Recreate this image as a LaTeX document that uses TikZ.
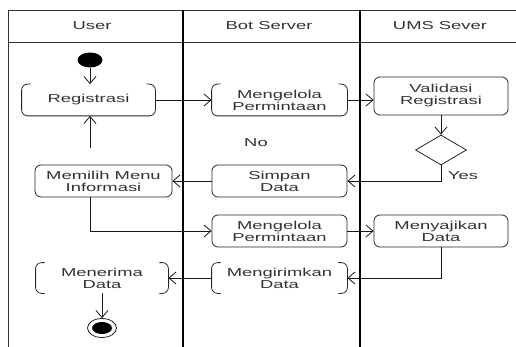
\documentclass[tikz,border=0pt]{standalone}
\usepackage{fontspec}
\setmainfont{Liberation Sans}[FakeStretch=1.6]
\usetikzlibrary{arrows.meta,calc,shapes.geometric}
\begin{document}
\begin{tikzpicture}[x=1pt,y=-1pt,
 every node/.style={font=\fontsize{11.5}{12}\selectfont, text=black!80},
 act/.style={draw=black!85, rounded corners=6pt, minimum width=135pt, minimum height=31pt, align=center, inner sep=0pt, line width=0.8pt},
 bare/.style={act, draw=none},
 edge/.style={draw=black!85, line width=0.8pt, rounded corners=6pt},
 flow/.style={draw=black!90, line width=0.8pt, -{Straight Barb[length=7pt,width=12pt]}},
 lane/.style={line width=1.8pt},
]
\useasboundingbox (0,0) rectangle (516,347);
% swimlanes
\draw[line width=0.8pt, black!80] (8,347) -- (8,10) -- (516,10);
\draw[line width=0.8pt, black!80] (8,42) -- (516,42);
\draw[lane] (183,10) -- (183,347);
\draw[lane] (360,10) -- (360,347);
\node (h1) at (92,26) {User};
\node (h2) at (269,26) {Bot Server};
\node (h3) at (440,26) {UMS Sever};
% nodes
\node[ellipse, fill=black, minimum width=25pt, minimum height=15pt, inner sep=0pt] (st) at (90,60) {};
\node[bare, minimum width=133pt] (reg) at (88.5,100) {Registrasi};
\node[bare] (mg1) at (279.5,100) {Mengelola\\Permintaan};
\node[act, minimum width=134pt, minimum height=38pt] (val) at (441,96) {Validasi\\Registrasi};
\node[diamond, draw=black!85, line width=0.8pt, aspect=1.7, minimum width=51pt, minimum height=30pt, inner sep=0pt] (dec) at (441,150) {};
\node[act, minimum width=137pt, minimum height=32pt] (mem) at (103.5,181) {Memilih Menu\\Informasi};
\node[act, minimum height=32pt] (sim) at (279.5,181) {Simpan\\Data};
\node[act, minimum height=32pt] (mg2) at (279.5,231) {Mengelola\\Permintaan};
\node[act, minimum width=134pt, minimum height=32pt] (saj) at (441,231) {Menyajikan\\Data};
\node[bare, minimum height=30pt] (kir) at (279.5,278) {Mengirimkan\\Data};
\node[bare, minimum width=132pt, minimum height=30pt] (ter) at (102,278) {Menerima\\Data};
\node[ellipse, draw=black!85, line width=0.8pt, minimum width=29pt, minimum height=19pt, inner sep=0pt] (en) at (102,328) {};
\node[ellipse, fill=black, minimum width=20pt, minimum height=12pt, inner sep=0pt] (enin) at (en) {};
% partial outlines
\foreach \n in {reg,mg1}{
 \draw[edge] ($(\n.north west)+(9,0)$) -- (\n.north west) -- (\n.south west) -- (\n.south east) -- (\n.north east) -- ($(\n.north east)+(-9,0)$);
}
\foreach \n in {kir,ter}{
 \draw[edge] ($(\n.north west)+(9,0)$) -- (\n.north west) -- (\n.south west) -- ($(\n.south west)+(9,0)$);
 \draw[edge] ($(\n.north east)+(-9,0)$) -- (\n.north east) -- (\n.south east) -- ($(\n.south east)+(-9,0)$);
}
% labels
\node (yes) at (463,176) {Yes};
\node (no) at (256,143) {No};
% connectors
\coordinate (up) at (90,148);
\draw[flow] (st.south) -- (st.south |- reg.north);
\draw[flow] (reg) -- (mg1);
\draw[flow] (mg1) -- (val.west |- mg1);
\draw[flow] (val.south) -- (dec.north);
\draw[flow] (dec.south) |- (sim.east);
\draw[flow] (sim) -- (mem);
\draw[flow] (up) -- (up |- reg.south);
\draw[flow] (mem.south -| up) |- (mg2.west);
\draw[flow] (mg2) -- (saj);
\draw[flow] (saj.south) |- (kir.east);
\draw[flow] (kir) -- (ter);
\draw[flow] (ter.south) -- (en.north);
\end{tikzpicture}
\end{document}
